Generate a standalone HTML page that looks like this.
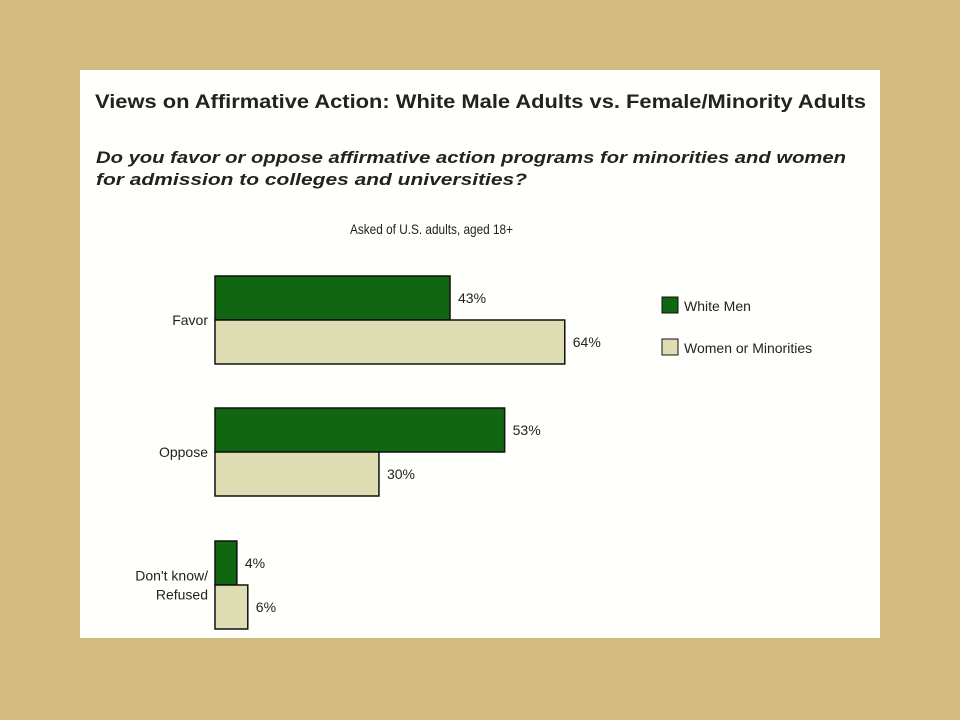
<!DOCTYPE html>
<html><head><meta charset="utf-8"><style>
body{margin:0;width:960px;height:720px;background:#d3bb82;overflow:hidden}
svg{position:absolute;left:0;top:0}
text{font-family:"Liberation Sans",sans-serif;fill:#222}
</style></head><body>
<svg width="960" height="720">
<rect x="80" y="70" width="800" height="568" fill="#fffffb"/>
<text x="95" y="108" font-size="19" font-weight="bold" textLength="771" lengthAdjust="spacingAndGlyphs">Views on Affirmative Action: White Male Adults vs. Female/Minority Adults</text>
<text x="96" y="163" font-size="17" font-weight="bold" font-style="italic" textLength="750" lengthAdjust="spacingAndGlyphs">Do you favor or oppose affirmative action programs for minorities and women</text>
<text x="96" y="185" font-size="17" font-weight="bold" font-style="italic" textLength="431" lengthAdjust="spacingAndGlyphs">for admission to colleges and universities?</text>
<text x="350" y="234" font-size="14" textLength="163" lengthAdjust="spacingAndGlyphs">Asked of U.S. adults, aged 18+</text>
<g id="bars"></g>
<rect x="662" y="297" width="16" height="16" fill="#116611" stroke="#111"/>
<text x="684" y="311" font-size="14">White Men</text>
<rect x="662" y="339" width="16" height="16" fill="#deddb4" stroke="#111"/>
<text x="684" y="353" font-size="14">Women or Minorities</text>
</svg>
<script>
const categories=["Favor","Oppose","Don't know/Refused"];
const whiteMen=[43,53,4];
const womenMinorities=[64,30,6];
const valueLabels=["43%","53%","4%"];
const valueLabels2=["64%","30%","6%"];
const x0=215, scale=235/43;
const x=v=>x0+v*scale;
const gTop=[276,408,541], bh=44;
const g=document.getElementById('bars');
const NS='http://www.w3.org/2000/svg';
function mk(t,a){const e=document.createElementNS(NS,t);for(const k in a)e.setAttribute(k,a[k]);g.appendChild(e);return e;}
categories.forEach((c,i)=>{
  const y=gTop[i];
  let r=mk('rect',{x:x0,y:y,width:x(whiteMen[i])-x0,height:bh,fill:'#116611',stroke:'#111','stroke-width':1.5});
  
  
  let r2=mk('rect',{x:x0,y:y+bh,width:x(womenMinorities[i])-x0,height:bh,fill:'#deddb4',stroke:'#111','stroke-width':1.5});
  
  
  let t=mk('text',{x:x(whiteMen[i])+8,y:y+bh/2+5,'font-size':14});
  t.textContent=valueLabels[i];
  
  
  let t2=mk('text',{x:x(womenMinorities[i])+8,y:y+bh*1.5+5,'font-size':14});
  t2.textContent=valueLabels2[i];
  
  
  const parts=c==="Don't know/Refused"?["Don't know/","Refused"]:[c];
  parts.forEach((p,j)=>{
    let l=mk('text',{x:208,y:y+bh+5+(parts.length>1?(j-0.5)*19:0),'font-size':14,'text-anchor':'end'});
    l.textContent=p;
    
    
  });
});
</script>
</body></html>
